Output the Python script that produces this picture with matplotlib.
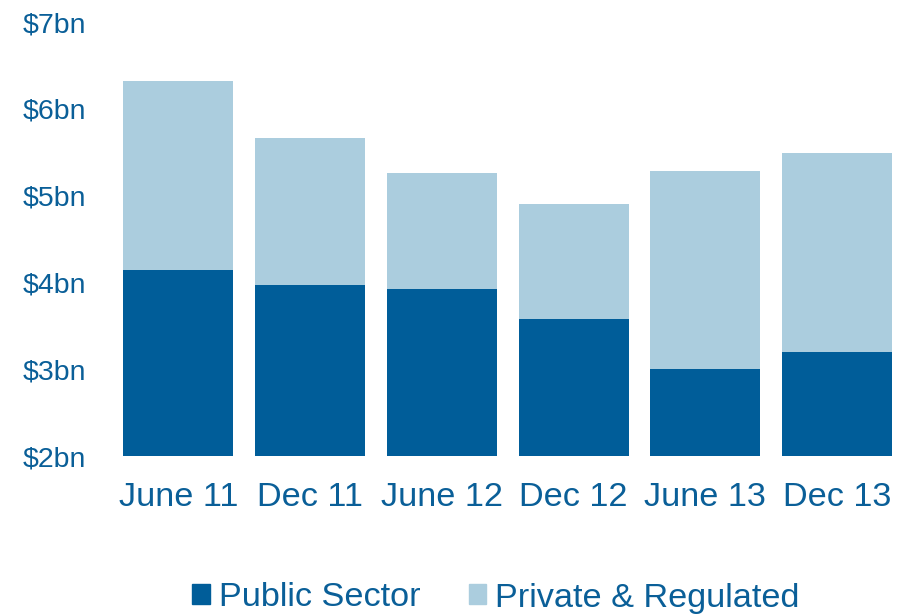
import matplotlib.pyplot as plt
from matplotlib.patches import Patch

plt.rcParams["font.family"] = ["Liberation Sans", "DejaVu Sans"]

periods = ["June 11", "Dec 11", "June 12", "Dec 12", "June 13", "Dec 13"]
totals = [6.32, 5.66, 5.26, 4.90, 5.28, 5.49]
public_sector = [4.14, 3.97, 3.92, 3.58, 3.00, 3.20]
private_regulated = [t - p for t, p in zip(totals, public_sector)]
y_ticks = [2, 3, 4, 5, 6, 7]
y_labels = ["$2bn", "$3bn", "$4bn", "$5bn", "$6bn", "$7bn"]

dark = "#005d99"
light = "#abcdde"
text_col = "#0a5f98"

fig = plt.figure(figsize=(9.1, 6.14), dpi=100)
ax = fig.add_axes([0.1237, 0.2573, 0.8686, 0.7068])

x = range(len(periods))
base = 2
ax.bar(x, [p - base for p in public_sector], bottom=base, width=0.835,
       color=dark, zorder=2)
ax.bar(x, private_regulated, bottom=public_sector, width=0.835,
       color=light, zorder=2)

ax.set_xlim(-0.5, len(periods) - 0.5)
ax.set_ylim(2, 7)
ax.set_yticks(y_ticks)
ax.set_yticklabels(y_labels, fontsize=20.5, color=text_col)
ax.set_xticks(list(x))
ax.set_xticklabels(periods, fontsize=24.7, color=text_col)
ax.tick_params(axis="y", length=0, pad=19)
ax.tick_params(axis="x", length=0, pad=19)
for s in ax.spines.values():
    s.set_visible(False)

# legend sits centred below the tick labels
handles = [Patch(color=dark, label="Public Sector"),
           Patch(color=light, label="Private & Regulated")]
leg = fig.legend(handles=handles, loc="center", bbox_to_anchor=(496 / 910, 1 - 598 / 614),
                 ncol=2, frameon=False, fontsize=24.7, handlelength=0.52,
                 handleheight=0.52, handletextpad=0.26, columnspacing=1.4,
                 borderpad=0, borderaxespad=0)
for t in leg.get_texts():
    t.set_color(text_col)

fig.savefig("out.png", dpi=100)
